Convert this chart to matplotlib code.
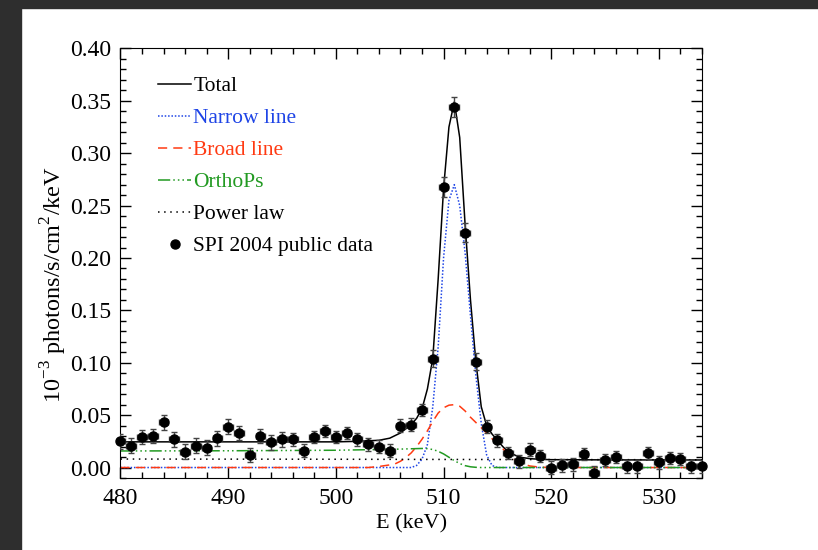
import numpy as np
import matplotlib
matplotlib.use("Agg")
import matplotlib.pyplot as plt
from matplotlib.patches import Rectangle
from matplotlib.ticker import MultipleLocator, FormatStrFormatter

plt.rcParams['font.family'] = ['Liberation Serif', 'DejaVu Serif']
plt.rcParams['mathtext.fontset'] = 'custom'
plt.rcParams['mathtext.rm'] = 'Liberation Serif'

# SPI 2004 data, 1 keV bins
energy = np.arange(480, 535)
flux = [0.025, 0.021, 0.029, 0.030, 0.043, 0.027, 0.015, 0.021, 0.019, 0.028,
        0.039, 0.033, 0.012, 0.030, 0.024, 0.027, 0.027, 0.016, 0.029, 0.035,
        0.029, 0.033, 0.027, 0.022, 0.020, 0.016, 0.040, 0.041, 0.055, 0.104,
        0.268, 0.344, 0.224, 0.101, 0.039, 0.026, 0.014, 0.006, 0.017, 0.011,
        0.000, 0.002, 0.003, 0.013, -0.005, 0.007, 0.010, 0.001, 0.001, 0.014,
        0.005, 0.009, 0.008, 0.001, 0.001]
flux_err = [0.007] * 16 + [0.006] * 13 + [0.008, 0.0096, 0.0099, 0.009, 0.008] + [0.006] * 21
e_err = 0.45

# model components
tot_x = [480, 490, 500, 502, 504, 505, 506, 507, 507.5, 508, 508.5, 509, 509.5,
         510, 510.5, 511, 511.5, 512, 512.5, 513, 513.5, 514, 514.5, 515, 515.5,
         516, 517, 518, 519, 520, 525, 534]
tot_y = [0.0245, 0.0245, 0.0245, 0.025, 0.026, 0.028, 0.033, 0.041, 0.047, 0.056,
         0.075, 0.104, 0.180, 0.266, 0.325, 0.349, 0.315, 0.232, 0.160, 0.101,
         0.058, 0.040, 0.032, 0.026, 0.020, 0.015, 0.010, 0.0085, 0.0078, 0.0075,
         0.0073, 0.0072]

narrow_x = [480, 507, 507.5, 508, 508.5, 509, 509.5, 510, 510.5, 511, 511.5, 512,
            512.5, 513, 513.5, 514, 514.5, 515, 534]
narrow_y = [0.0, 0.0, 0.002, 0.008, 0.022, 0.058, 0.115, 0.200, 0.255, 0.270,
            0.250, 0.205, 0.145, 0.088, 0.042, 0.012, 0.002, 0.0, 0.0]

broad_x = [480, 503, 504, 505, 505.5, 506, 506.5, 507, 507.5, 508, 508.5, 509,
           509.5, 510, 510.5, 511, 511.5, 512, 512.5, 513, 513.5, 514, 514.5, 515,
           515.5, 516, 516.5, 517, 517.5, 518, 519, 520, 534]
broad_y = [0.0, 0.0, 0.001, 0.0025, 0.0035, 0.006, 0.0095, 0.014, 0.020, 0.027,
           0.035, 0.044, 0.052, 0.057, 0.0595, 0.060, 0.0585, 0.054, 0.048, 0.043,
           0.038, 0.033, 0.0275, 0.023, 0.018, 0.012, 0.008, 0.0055, 0.003, 0.0015,
           0.0003, 0.0, 0.0]

ortho_x = [480, 490, 500, 504, 506, 507, 508, 508.5, 509, 509.5, 510, 510.5, 511,
           511.5, 512, 512.5, 513, 513.5, 534]
ortho_y = [0.0158, 0.0160, 0.0165, 0.0172, 0.0176, 0.0179, 0.0182, 0.0180, 0.0172,
           0.0155, 0.0130, 0.0098, 0.0066, 0.0038, 0.0018, 0.0007, 0.0002, 0.0, 0.0]

plaw_x = [480, 500, 511, 520, 534]
plaw_y = [0.0081, 0.0079, 0.0077, 0.0076, 0.0074]

c_blue = '#1f45e6'
c_red = '#ff3a12'
c_green = '#229a22'

fig = plt.figure(figsize=(8.18, 5.5), dpi=100)
# dark textured frame at left / top
fig.patches.append(Rectangle((0, 0), 21 / 818., 1, transform=fig.transFigure,
                             color='#2e2e2e', zorder=0))
fig.patches.append(Rectangle((0, 1 - 8 / 550.), 1, 8 / 550., transform=fig.transFigure,
                             color='#2e2e2e', zorder=0))

ax = fig.add_axes([0.1473, 0.1309, 0.7109, 0.781])

ax.plot(tot_x, tot_y, color='black', lw=1.1, label='Total')
ax.plot(narrow_x, narrow_y, color=c_blue, lw=1.1, ls=(0, (1, 1.2)), label='Narrow line')
ax.plot(broad_x, broad_y, color=c_red, lw=1.1, ls=(0, (6, 4)), label='Broad line')
ax.plot(ortho_x, ortho_y, color=c_green, lw=1.1,
        ls=(0, (8, 2, 1, 2, 1, 2, 1, 2)), label='OrthoPs')
ax.plot(plaw_x, plaw_y, color='black', lw=1.1, ls=(0, (1, 3)), label='Power law')

ax.errorbar(energy, flux, xerr=e_err, yerr=flux_err, fmt='none', ecolor='#444444',
            elinewidth=1, capsize=2, capthick=1, zorder=3)
ax.plot(energy, flux, 'o', color='black', ms=6.5, zorder=4, clip_on=False,
        label='SPI 2004 public data')

ax.set_xlim(480, 534)
ax.set_ylim(-0.01, 0.40)
ax.xaxis.set_major_locator(MultipleLocator(10))
ax.xaxis.set_minor_locator(MultipleLocator(2))
ax.yaxis.set_major_locator(MultipleLocator(0.05))
ax.yaxis.set_minor_locator(MultipleLocator(0.01))
ax.yaxis.set_major_formatter(FormatStrFormatter('%.2f'))
ax.tick_params(which='both', direction='in', top=True, right=True, labelsize=17)
ax.tick_params(which='major', length=8, width=1, pad=7)
ax.tick_params(which='minor', length=4, width=1)

ax.set_xlabel('E (keV)', fontsize=16, labelpad=4)
ax.set_ylabel(r'10$^{-3}$ photons/s/cm$^{2}$/keV', fontsize=17.5)
ax.yaxis.set_label_coords(-0.088, 0.45)

leg = ax.legend(loc='upper left', bbox_to_anchor=(0.032, 0.98), frameon=False,
                fontsize=15.5, handlelength=1.5, handletextpad=0.12,
                labelspacing=0.55, numpoints=1)
for txt, col in zip(leg.get_texts(), ['black', c_blue, c_red, c_green, 'black', 'black']):
    txt.set_color(col)

fig.savefig('out.png', dpi=100)
